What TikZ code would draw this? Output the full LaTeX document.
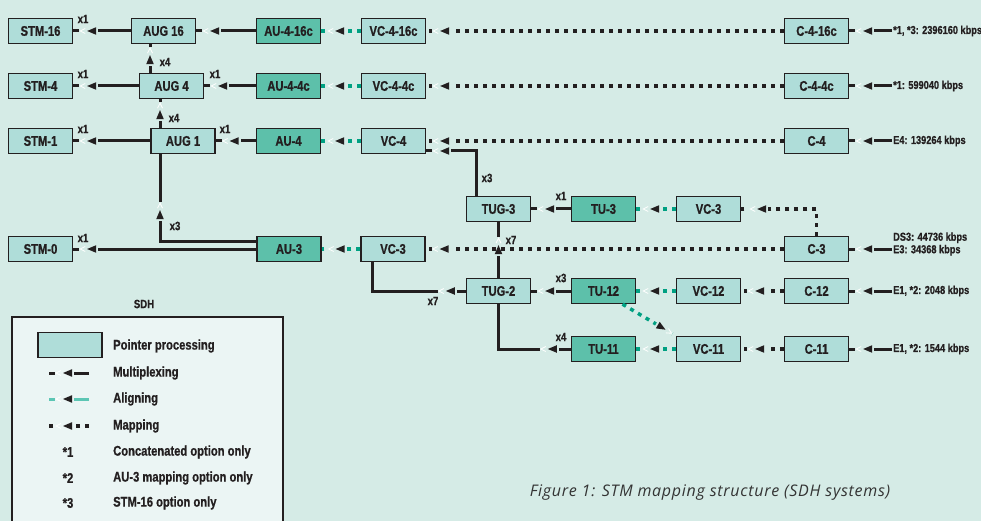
\documentclass[tikz,border=0pt]{standalone}
\usepackage{fontspec}
\usepackage{tikz}
\usetikzlibrary{calc,decorations.markings}
\newfontfamily\condfont{Liberation Sans}[FakeStretch=0.8, BoldFeatures={FakeBold=0.8}]
\newfontfamily\capfont{Open Sans}[LetterSpace=4.5]
\newcommand\boxfont{\condfont\bfseries\fontsize{14}{16}\selectfont}
\newcommand\cntfont{\condfont\bfseries\fontsize{12}{14}\selectfont}
\newcommand\infont{\condfont\bfseries\fontsize{11.5}{12.5}\selectfont}

\definecolor{bgcol}{HTML}{D5EBE6}
\definecolor{ptrfill}{HTML}{AFDDD9}
\definecolor{unitfill}{HTML}{5DC0AA}
\definecolor{linecol}{HTML}{231F20}
\definecolor{alncol}{HTML}{00A082}
\definecolor{legbg}{HTML}{EBF5F4}
\definecolor{legteal}{HTML}{5CC6B4}
\definecolor{capcol}{HTML}{333333}
\colorlet{gapcol}{bgcol}

\tikzset{
  ptr/.style={draw=linecol, line width=1.3pt, fill=ptrfill, minimum width=64pt,
    minimum height=25pt, inner sep=0pt, text=linecol, font=\boxfont},
  unit/.style={ptr, fill=unitfill},
  cnt/.style={inner sep=0pt, text=linecol, font=\cntfont},
  inlbl/.style={anchor=west, inner sep=1pt, text=linecol, font=\infont, align=left},
  legtxt/.style={anchor=west, inner sep=0pt, text=linecol, font=\boxfont},
  % gap, light wedge and black tip, placed at #1 along the path
  gapmark/.style={decoration={markings, mark=at position #1 with {
        \fill[gapcol] (-11pt,-3pt) rectangle (8pt,3pt);
        \draw[white, solid, line width=0.8pt] (2pt,2.5pt) -- (7pt,0pt) -- (2pt,-2.5pt);
        \fill[linecol] (0pt,0pt) -- (-9pt,3.8pt) -- (-9pt,-3.8pt) -- cycle;}},
    postaction={decorate}},
  muxline/.style={draw=linecol, line width=3pt, gapmark=#1},
  muxline/.default=-14pt,
  alnline/.style={draw=alncol, line width=3.5pt, dash pattern=on 4pt off 5pt, gapmark=#1},
  alnline/.default=-14pt,
  mapline/.style={draw=linecol, line width=3.5pt, dash pattern=on 4pt off 5pt, gapmark=#1},
  mapline/.default=-14pt,
  legaln/.style={draw=legteal, line width=3pt, gapmark=-14pt}
}

\begin{document}
\begin{tikzpicture}[x=1pt,y=-1pt]
\clip (0,0) rectangle (981,521);
\fill[bgcol] (0,0) rectangle (981,521);

% row STM-16
\node[ptr]  (stm16)  at (40.5,31)  {STM-16};
\node[ptr]  (aug16)  at (163.5,31) {AUG 16};
\node[unit] (au416c) at (288.5,31) {AU-4-16c};
\node[ptr]  (vc416c) at (393.5,31) {VC-4-16c};
\node[ptr]  (c416c)  at (816.5,31) {C-4-16c};
\node[inlbl] (in16)  at (892,31)   {*1, *3: 2396160 kbps};

% row STM-4
\node[ptr]  (stm4)  at (40.5,86)  {STM-4};
\node[ptr]  (aug4)  at (171.5,86) {AUG 4};
\node[unit] (au44c) at (288.5,86) {AU-4-4c};
\node[ptr]  (vc44c) at (393.5,86) {VC-4-4c};
\node[ptr]  (c44c)  at (816.5,86) {C-4-4c};
\node[inlbl] (in4)  at (892,86)   {*1: 599040 kbps};

% row STM-1
\node[ptr]  (stm1) at (40.5,141) {STM-1};
\node[ptr]  (aug1) at (183,141)  {AUG 1};
\node[unit] (au4)  at (288.5,141) {AU-4};
\node[ptr]  (vc4)  at (393.5,141) {VC-4};
\node[ptr]  (c4)   at (816.5,141) {C-4};
\node[inlbl] (in1) at (892,141)  {E4: 139264 kbps};

% TUG-3 branch
\node[ptr]  (tug3) at (498.5,209) {TUG-3};
\node[unit] (tu3)  at (603.5,209) {TU-3};
\node[ptr]  (vc3r) at (708.5,209) {VC-3};

% row STM-0
\node[ptr]  (stm0) at (40.5,249) {STM-0};
\node[unit] (au3)  at (289,249)  {AU-3};
\node[ptr]  (vc3)  at (393,249)  {VC-3};
\node[ptr]  (c3)   at (816.5,249) {C-3};
\node[inlbl] (in3) at (892,244)  {DS3: 44736 kbps\\E3: 34368 kbps};

% TUG-2 branch
\node[ptr]  (tug2) at (498.5,291) {TUG-2};
\node[unit] (tu12) at (603.5,291) {TU-12};
\node[ptr]  (vc12) at (708.5,291) {VC-12};
\node[ptr]  (c12)  at (816.5,291) {C-12};
\node[inlbl] (in12) at (892,291) {E1, *2: 2048 kbps};
\node[unit] (tu11) at (603.5,349) {TU-11};
\node[ptr]  (vc11) at (708.5,349) {VC-11};
\node[ptr]  (c11)  at (816.5,349) {C-11};
\node[inlbl] (in11) at (892,349) {E1, *2: 1544 kbps};

% STM-16 row
\draw[muxline] (aug16.west) -- (stm16.east);
\draw[muxline] (au416c.west) -- (aug16.east);
\draw[alnline] (vc416c.west) -- (au416c.east);
\draw[mapline] (c416c.west) -- (vc416c.east);
\draw[muxline] (in16.west) -- (c416c.east);
% STM-4 row
\draw[muxline=-11pt] ([xshift=-21.5pt]aug4.north) -- ([xshift=-21.5pt]aug4.north |- aug16.south);
\draw[muxline] (aug4.west) -- (stm4.east);
\draw[muxline] (au44c.west) -- (aug4.east);
\draw[alnline] (vc44c.west) -- (au44c.east);
\draw[mapline] (c44c.west) -- (vc44c.east);
\draw[muxline] (in4.west) -- (c44c.east);
% STM-1 row
\draw[muxline=-11pt] ([xshift=-23pt]aug1.north) -- ([xshift=-23pt]aug1.north |- aug4.south);
\draw[muxline] (aug1.west) -- (stm1.east);
\draw[muxline] (au4.west) -- (aug1.east);
\draw[alnline] (vc4.west) -- (au4.east);
\draw[mapline] (c4.west) -- (vc4.east);
\draw[muxline] (in1.west) -- (c4.east);
% STM-0 row and lower part
\draw[muxline=-56pt] ([yshift=8pt]au3.west) -| ([xshift=-23pt]aug1.south);
\draw[muxline] (au3.west) -- (stm0.east);
\draw[alnline] (vc3.west) -- (au3.east);
\draw[muxline] ([xshift=-22.5pt]tug3.north) |- ([yshift=-10pt]vc4.east);
\draw[muxline=-23pt] (tug2.north) -- (tug3.south);
\draw[mapline] (c3.west) -- (vc3.east);
\draw[muxline] (in3.west |- c3.east) -- (c3.east);
\draw[muxline=20pt] (tug2.west) -| ([xshift=-21pt]vc3.south);
\draw[muxline] (tu3.west) -- (tug3.east);
\draw[alnline] (vc3r.west) -- (tu3.east);
\draw[mapline=-16pt] (c3.north) |- (vc3r.east);
\draw[muxline] (tu12.west) -- (tug2.east);
\draw[alnline] (vc12.west) -- (tu12.east);
\draw[mapline] (c12.west) -- (vc12.east);
\draw[muxline] (in12.west) -- (c12.east);
\draw[muxline=23pt] (tu11.west) -| (tug2.south);
\draw[alnline] (vc11.west) -- (tu11.east);
\draw[mapline] (c11.west) -- (vc11.east);
\draw[muxline] (in11.west) -- (c11.east);
\draw[alnline=-12pt] ([xshift=19pt]tu12.south) -- (vc11.north west);

% multiplex counts
\node[cnt] (k16)  at (83,19)   {x1};
\node[cnt] (k4)   at (83,74)   {x1};
\node[cnt] (k1)   at (83,129)  {x1};
\node[cnt] (k0)   at (83,238)  {x1};
\node[cnt] (ka4)  at (215,74)  {x1};
\node[cnt] (ka1)  at (225,129) {x1};
\node[cnt] (kv16) at (165,62)  {x4};
\node[cnt] (kv4)  at (174,118) {x4};
\node[cnt] (kau3) at (175,226) {x3};
\node[cnt] (ktg3) at (487,178) {x3};
\node[cnt] (ktu3) at (561,196) {x1};
\node[cnt] (ktg7) at (511,240) {x7};
\node[cnt] (kt12) at (561,278) {x3};
\node[cnt] (kvc7) at (433,301) {x7};
\node[cnt] (kt11) at (561,337) {x4};

% legend
\node[cnt] (sdh) at (144,304) {SDH};
\fill[legbg, draw=linecol, line width=1.5pt] (12,317) rectangle (283,530);
\begin{scope}
\colorlet{gapcol}{legbg}
\node[ptr] (lgbox) at (70,345) {};
\node[legtxt] (lptr) at (113,346) {Pointer processing};
\node[legtxt] (lmux) at (113,373) {Multiplexing};
\node[legtxt] (laln) at (113,399) {Aligning};
\node[legtxt] (lmap) at (113,426) {Mapping};
\node[legtxt] (lc1) at (113,452) {Concatenated option only};
\node[legtxt] (lc2) at (113,478) {AU-3 mapping option only};
\node[legtxt] (lc3) at (113,503) {STM-16 option only};
\node[cnt, font=\boxfont] (s1) at (68,452) {*1};
\node[cnt, font=\boxfont] (s2) at (68,478) {*2};
\node[cnt, font=\boxfont] (s3) at (68,503) {*3};
\draw[muxline] ([xshift=-24pt]lmux.west) -- ++(-40,0);
\draw[legaln] ([xshift=-24pt]laln.west) -- ++(-40,0);
\draw[mapline] ([xshift=-24pt]lmap.west) -- ++(-40,0);
\end{scope}

\node[text=capcol, font=\capfont\itshape\fontsize{16}{18}\selectfont] (cap) at (710,493)
  {Figure 1: STM mapping structure (SDH systems)};
\end{tikzpicture}
\end{document}
